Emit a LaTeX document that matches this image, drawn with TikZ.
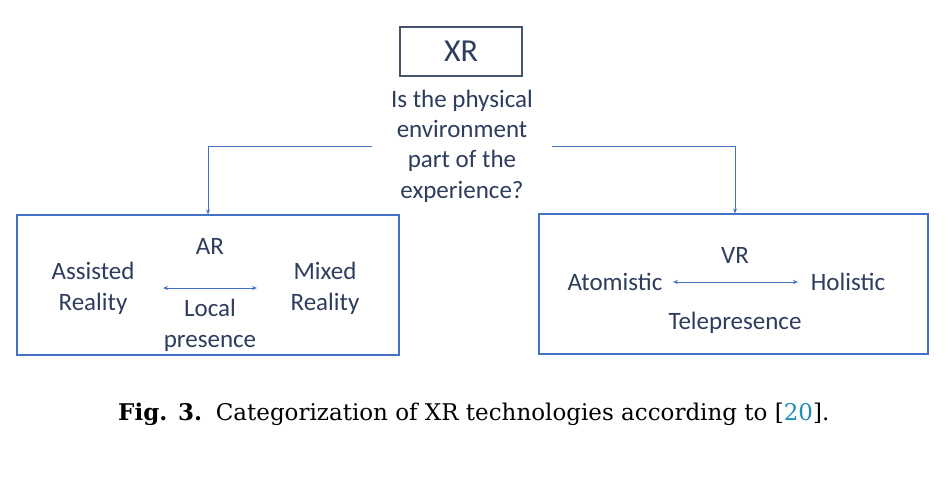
\documentclass[tikz,border=0pt]{standalone}
\usepackage{fontspec}
\setmainfont{DejaVu Serif}
\newfontfamily\calfont{Carlito}
\usetikzlibrary{arrows.meta}
\definecolor{txtc}{HTML}{2E3D5E}
\definecolor{xrbord}{HTML}{44546A}
\definecolor{blu}{HTML}{4472C4}
\definecolor{citec}{HTML}{1F8FB8}
\tikzset{
  x=1pt, y=-1pt,
  lbl/.style={font=\calfont\fontsize{25}{30}\selectfont, text=txtc, align=center, inner sep=0pt},
  bigbox/.style={draw=blu, line width=1.1pt},
  conn/.style={draw=blu, line width=0.7pt, -{Stealth[length=5pt,width=4pt]}},
  dbl/.style={draw=blu, line width=0.7pt, {Stealth[length=5pt,width=4pt]}-{Stealth[length=5pt,width=4pt]}}
}
\begin{document}
\begin{tikzpicture}
\useasboundingbox[fill=white] (0,0) rectangle (950,480);
% XR box
\node[draw=xrbord, line width=1.1pt, minimum width=122pt, minimum height=49pt, inner sep=0pt,
  font=\calfont\fontsize{32}{34}\selectfont, text=txtc] (xr) at (461,51.5) {XR};
\node[lbl, font=\calfont\fontsize{25}{30.3}\selectfont] (q) at (462,146) {Is the physical\\environment\\part of the\\experience?};
% boxes
\node[bigbox, minimum width=382pt, minimum height=140pt, inner sep=0pt] (ar) at (208,285) {};
\node[bigbox, minimum width=389pt, minimum height=140pt, inner sep=0pt] (vr) at (733.5,284) {};
% connectors
\coordinate (qL) at (372,146);
\coordinate (qR) at (552,146);
\draw[conn] (qL) -- (208,146) -- (ar.north -| 208,0);
\draw[conn] (qR) -- (735,146) -- (vr.north -| 735,0);
% AR contents
\node[lbl] (arl) at (210,246) {AR};
\node[lbl, font=\calfont\fontsize{25}{31}\selectfont] (ass) at (93,288) {Assisted\\Reality};
\node[lbl, font=\calfont\fontsize{25}{31}\selectfont] (mix) at (325,288) {Mixed\\Reality};
\node[lbl, font=\calfont\fontsize{25}{31}\selectfont] (loc) at (210,325) {Local\\presence};
\coordinate (a1) at (163,288);
\coordinate (a2) at (257,288);
\draw[dbl] (a1) -- (a2);
% VR contents
\node[lbl] (vrl) at (735,255) {VR};
\node[lbl] (atom) at (615,282) {Atomistic};
\node[lbl] (hol) at (848,282) {Holistic};
\node[lbl] (tele) at (735,323) {Telepresence};
\coordinate (b1) at (673,282);
\coordinate (b2) at (798,282);
\draw[dbl] (b1) -- (b2);
% caption
\node[font=\fontsize{23}{25}\selectfont, inner sep=0pt, anchor=west] (cap) at (118,414)
  {\textbf{Fig. 3.}\hspace{0.6em}Categorization of XR technologies according to [\textcolor{citec}{20}].};
\end{tikzpicture}
\end{document}
